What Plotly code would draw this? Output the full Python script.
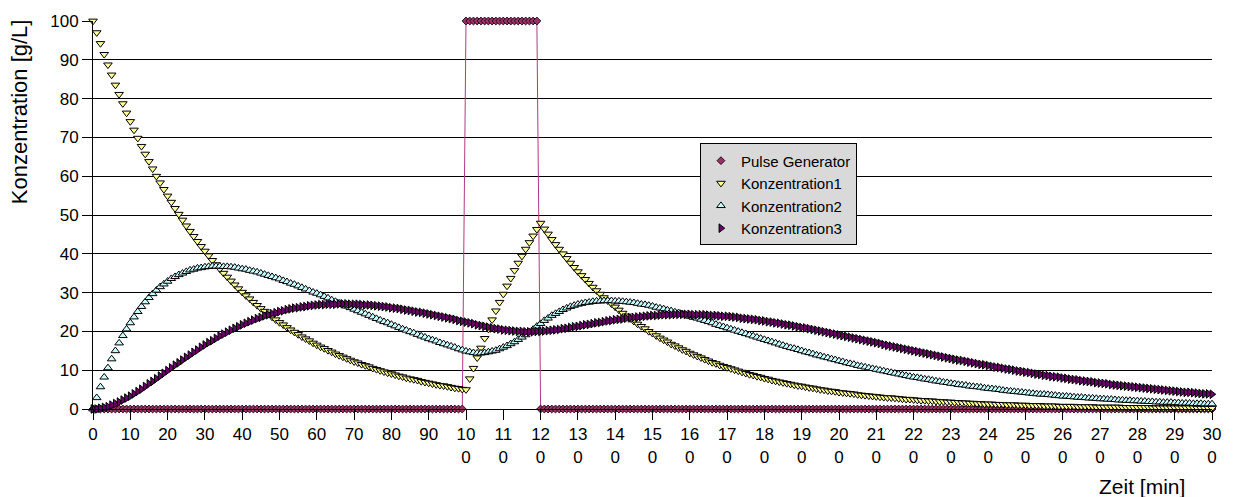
import plotly.graph_objects as go

# ---------------- data ----------------
zeit = list(range(0, 301))  # minutes, one sample per minute

pulse_generator = [0] * 100 + [100] * 20 + [0] * 181

konzentration1 = [
    100.0,
    97.0, 94.2, 91.4, 88.7, 86.1, 83.5, 81.1, 78.7, 76.3, 74.1,
    71.9, 69.8, 67.7, 65.7, 63.8, 61.9, 60.0, 58.3, 56.6, 54.9,
    53.3, 51.7, 50.2, 48.7, 47.2, 45.8, 44.5, 43.2, 41.9, 40.7,
    39.5, 38.3, 37.2, 36.1, 35.0, 34.0, 33.0, 32.0, 31.0, 30.1,
    29.2, 28.4, 27.5, 26.7, 25.9, 25.2, 24.4, 23.7, 23.0, 22.3,
    21.7, 21.0, 20.4, 19.8, 19.2, 18.6, 18.1, 17.6, 17.0, 16.5,
    16.0, 15.6, 15.1, 14.7, 14.2, 13.8, 13.4, 13.0, 12.6, 12.2,
    11.9, 11.5, 11.2, 10.9, 10.5, 10.2, 9.9, 9.6, 9.3, 9.1,
    8.8, 8.5, 8.3, 8.0, 7.8, 7.6, 7.4, 7.1, 6.9, 6.7,
    6.5, 6.3, 6.1, 6.0, 5.8, 5.6, 5.4, 5.3, 5.1, 5.0,
    7.8, 10.5, 13.2, 15.7, 18.2, 20.6, 23.0, 25.3, 27.5, 29.6,
    31.7, 33.7, 35.7, 37.6, 39.4, 41.2, 42.9, 44.6, 46.3, 47.9,
    46.4, 45.1, 43.7, 42.4, 41.2, 40.0, 38.8, 37.6, 36.5, 35.4,
    34.4, 33.4, 32.4, 31.4, 30.5, 29.6, 28.7, 27.9, 27.1, 26.3,
    25.5, 24.7, 24.0, 23.3, 22.6, 21.9, 21.3, 20.7, 20.0, 19.5,
    18.9, 18.3, 17.8, 17.3, 16.7, 16.3, 15.8, 15.3, 14.9, 14.4,
    14.0, 13.6, 13.2, 12.8, 12.4, 12.0, 11.7, 11.3, 11.0, 10.7,
    10.4, 10.1, 9.8, 9.5, 9.2, 8.9, 8.7, 8.4, 8.2, 7.9,
    7.7, 7.4, 7.2, 7.0, 6.8, 6.6, 6.4, 6.2, 6.0, 5.9,
    5.7, 5.5, 5.4, 5.2, 5.0, 4.9, 4.7, 4.6, 4.5, 4.3,
    4.2, 4.1, 4.0, 3.9, 3.7, 3.6, 3.5, 3.4, 3.3, 3.2,
    3.1, 3.0, 2.9, 2.9, 2.8, 2.7, 2.6, 2.5, 2.5, 2.4,
    2.3, 2.2, 2.2, 2.1, 2.1, 2.0, 1.9, 1.9, 1.8, 1.8,
    1.7, 1.7, 1.6, 1.6, 1.5, 1.5, 1.4, 1.4, 1.3, 1.3,
    1.3, 1.2, 1.2, 1.2, 1.1, 1.1, 1.1, 1.0, 1.0, 1.0,
    0.9, 0.9, 0.9, 0.9, 0.8, 0.8, 0.8, 0.8, 0.7, 0.7,
    0.7, 0.7, 0.7, 0.6, 0.6, 0.6, 0.6, 0.6, 0.5, 0.5,
    0.5, 0.5, 0.5, 0.5, 0.5, 0.4, 0.4, 0.4, 0.4, 0.4,
    0.4, 0.4, 0.4, 0.3, 0.3, 0.3, 0.3, 0.3, 0.3, 0.3,
    0.3, 0.3, 0.3, 0.3, 0.3, 0.2, 0.2, 0.2, 0.2, 0.2,
]

konzentration2 = [
    0.0,
    2.9, 5.7, 8.2, 10.6, 12.9, 15.0, 17.0, 18.9, 20.6, 22.2,
    23.7, 25.1, 26.4, 27.6, 28.7, 29.7, 30.6, 31.5, 32.2, 32.9,
    33.6, 34.1, 34.6, 35.0, 35.4, 35.8, 36.0, 36.3, 36.4, 36.6,
    36.7, 36.8, 36.8, 36.8, 36.7, 36.7, 36.6, 36.5, 36.3, 36.1,
    36.0, 35.7, 35.5, 35.3, 35.0, 34.7, 34.4, 34.1, 33.8, 33.5,
    33.1, 32.8, 32.4, 32.1, 31.7, 31.3, 30.9, 30.5, 30.1, 29.8,
    29.4, 29.0, 28.6, 28.1, 27.7, 27.3, 26.9, 26.5, 26.1, 25.7,
    25.3, 24.9, 24.5, 24.1, 23.7, 23.3, 22.9, 22.5, 22.2, 21.8,
    21.4, 21.0, 20.6, 20.3, 19.9, 19.6, 19.2, 18.8, 18.5, 18.1,
    17.8, 17.5, 17.1, 16.8, 16.5, 16.2, 15.9, 15.5, 15.2, 14.9,
    14.7, 14.5, 14.4, 14.4, 14.5, 14.7, 14.9, 15.1, 15.5, 15.9,
    16.3, 16.8, 17.3, 17.9, 18.5, 19.1, 19.8, 20.5, 21.3, 22.0,
    22.8, 23.4, 24.1, 24.6, 25.1, 25.6, 26.0, 26.4, 26.7, 27.0,
    27.2, 27.4, 27.5, 27.7, 27.8, 27.8, 27.9, 27.9, 27.9, 27.8,
    27.8, 27.7, 27.6, 27.5, 27.4, 27.2, 27.0, 26.9, 26.7, 26.5,
    26.2, 26.0, 25.8, 25.5, 25.3, 25.0, 24.8, 24.5, 24.2, 23.9,
    23.6, 23.4, 23.1, 22.8, 22.5, 22.2, 21.8, 21.5, 21.2, 20.9,
    20.6, 20.3, 20.0, 19.7, 19.4, 19.1, 18.8, 18.5, 18.2, 17.9,
    17.6, 17.3, 17.0, 16.7, 16.4, 16.1, 15.8, 15.6, 15.3, 15.0,
    14.7, 14.5, 14.2, 13.9, 13.7, 13.4, 13.2, 12.9, 12.7, 12.4,
    12.2, 11.9, 11.7, 11.5, 11.2, 11.0, 10.8, 10.6, 10.4, 10.2,
    10.0, 9.8, 9.6, 9.4, 9.2, 9.0, 8.8, 8.6, 8.4, 8.2,
    8.1, 7.9, 7.7, 7.6, 7.4, 7.2, 7.1, 6.9, 6.8, 6.6,
    6.5, 6.3, 6.2, 6.1, 5.9, 5.8, 5.7, 5.6, 5.4, 5.3,
    5.2, 5.1, 5.0, 4.8, 4.7, 4.6, 4.5, 4.4, 4.3, 4.2,
    4.1, 4.0, 3.9, 3.8, 3.8, 3.7, 3.6, 3.5, 3.4, 3.3,
    3.3, 3.2, 3.1, 3.0, 3.0, 2.9, 2.8, 2.8, 2.7, 2.6,
    2.6, 2.5, 2.5, 2.4, 2.3, 2.3, 2.2, 2.2, 2.1, 2.1,
    2.0, 2.0, 1.9, 1.9, 1.8, 1.8, 1.7, 1.7, 1.7, 1.6,
    1.6, 1.5, 1.5, 1.5, 1.4, 1.4, 1.4, 1.3, 1.3, 1.3,
]

konzentration3 = [
    0.0,
    0.0, 0.2, 0.4, 0.6, 1.0, 1.4, 1.8, 2.3, 2.8, 3.3,
    3.9, 4.5, 5.1, 5.8, 6.5, 7.1, 7.8, 8.5, 9.2, 9.9,
    10.6, 11.3, 11.9, 12.6, 13.3, 13.9, 14.6, 15.2, 15.9, 16.5,
    17.1, 17.6, 18.2, 18.8, 19.3, 19.8, 20.3, 20.8, 21.2, 21.7,
    22.1, 22.5, 22.9, 23.3, 23.6, 24.0, 24.3, 24.6, 24.8, 25.1,
    25.3, 25.6, 25.8, 26.0, 26.1, 26.3, 26.4, 26.6, 26.7, 26.8,
    26.9, 26.9, 27.0, 27.0, 27.0, 27.1, 27.1, 27.1, 27.0, 27.0,
    27.0, 26.9, 26.8, 26.8, 26.7, 26.6, 26.5, 26.4, 26.3, 26.1,
    26.0, 25.9, 25.7, 25.5, 25.4, 25.2, 25.0, 24.9, 24.7, 24.5,
    24.3, 24.1, 23.9, 23.7, 23.5, 23.3, 23.1, 22.8, 22.6, 22.4,
    22.2, 22.0, 21.7, 21.5, 21.3, 21.1, 20.9, 20.7, 20.6, 20.4,
    20.3, 20.2, 20.1, 20.0, 20.0, 19.9, 19.9, 19.9, 20.0, 20.0,
    20.1, 20.2, 20.3, 20.4, 20.5, 20.7, 20.8, 21.0, 21.2, 21.3,
    21.5, 21.7, 21.8, 22.0, 22.2, 22.3, 22.5, 22.7, 22.8, 23.0,
    23.1, 23.2, 23.4, 23.5, 23.6, 23.7, 23.8, 23.9, 24.0, 24.1,
    24.1, 24.2, 24.3, 24.3, 24.3, 24.4, 24.4, 24.4, 24.4, 24.4,
    24.3, 24.3, 24.3, 24.3, 24.2, 24.1, 24.1, 24.0, 23.9, 23.9,
    23.8, 23.7, 23.6, 23.4, 23.3, 23.2, 23.1, 23.0, 22.8, 22.7,
    22.5, 22.4, 22.2, 22.1, 21.9, 21.7, 21.6, 21.4, 21.2, 21.0,
    20.9, 20.7, 20.5, 20.3, 20.1, 19.9, 19.7, 19.5, 19.3, 19.1,
    18.9, 18.7, 18.5, 18.3, 18.1, 17.9, 17.7, 17.5, 17.3, 17.1,
    16.9, 16.6, 16.4, 16.2, 16.0, 15.8, 15.6, 15.4, 15.2, 15.0,
    14.8, 14.6, 14.4, 14.2, 14.0, 13.8, 13.6, 13.4, 13.2, 13.0,
    12.8, 12.6, 12.5, 12.3, 12.1, 11.9, 11.7, 11.5, 11.4, 11.2,
    11.0, 10.8, 10.7, 10.5, 10.3, 10.2, 10.0, 9.8, 9.7, 9.5,
    9.4, 9.2, 9.0, 8.9, 8.7, 8.6, 8.4, 8.3, 8.2, 8.0,
    7.9, 7.7, 7.6, 7.5, 7.3, 7.2, 7.1, 7.0, 6.8, 6.7,
    6.6, 6.5, 6.3, 6.2, 6.1, 6.0, 5.9, 5.8, 5.7, 5.6,
    5.5, 5.4, 5.3, 5.2, 5.1, 5.0, 4.9, 4.8, 4.7, 4.6,
    4.5, 4.4, 4.3, 4.3, 4.2, 4.1, 4.0, 3.9, 3.9, 3.8,
]

x_tick_vals = [0, 10, 20, 30, 40, 50, 60, 70, 80, 90, 100, 110, 120, 130, 140, 150,
               160, 170, 180, 190, 200, 210, 220, 230, 240, 250, 260, 270, 280, 290, 300]
x_tick_text = ["0", "10", "20", "30", "40", "50", "60", "70", "80", "90",
               "10<br>0", "11<br>0", "12<br>0", "13<br>0", "14<br>0", "15<br>0",
               "16<br>0", "17<br>0", "18<br>0", "19<br>0", "20<br>0", "21<br>0",
               "22<br>0", "23<br>0", "24<br>0", "25<br>0", "26<br>0", "27<br>0",
               "28<br>0", "29<br>0", "30<br>0"]
y_tick_vals = [0, 10, 20, 30, 40, 50, 60, 70, 80, 90, 100]

# ---------------- figure ----------------
FONT = "Arial, Liberation Sans, sans-serif"
fig = go.Figure()

# pulse generator connecting line (no legend entry)
fig.add_trace(go.Scatter(
    x=zeit[:len(pulse_generator)], y=pulse_generator, mode="lines",
    line=dict(color="#B03A80", width=1), showlegend=False,
    hoverinfo="skip", cliponaxis=False))

fig.add_trace(go.Scatter(
    x=zeit[:len(pulse_generator)], y=pulse_generator, mode="markers",
    name="Pulse Generator",
    marker=dict(symbol="diamond", size=6, color="#993366",
                line=dict(color="#2A0A1C", width=1)),
    cliponaxis=False))

fig.add_trace(go.Scatter(
    x=zeit[:len(konzentration1)], y=konzentration1, mode="markers",
    name="Konzentration1",
    marker=dict(symbol="triangle-down", size=7.5, color="#FFFF99",
                line=dict(color="#000000", width=1)),
    cliponaxis=False))

fig.add_trace(go.Scatter(
    x=zeit[:len(konzentration2)], y=konzentration2, mode="markers",
    name="Konzentration2",
    marker=dict(symbol="triangle-up", size=7.5, color="#CCFFFF",
                line=dict(color="#000000", width=1)),
    cliponaxis=False))

fig.add_trace(go.Scatter(
    x=zeit[:len(konzentration3)], y=konzentration3, mode="markers",
    name="Konzentration3",
    marker=dict(symbol="triangle-right", size=7.5, color="#660066",
                line=dict(color="#000000", width=1)),
    cliponaxis=False))

fig.update_layout(
    width=1242, height=497,
    margin=dict(l=93, r=30, t=16, b=88),
    plot_bgcolor="white", paper_bgcolor="white",
    font=dict(family=FONT, size=17, color="black"),
    showlegend=True,
    legend=dict(x=0.5424, y=0.6845, xanchor="left", yanchor="top",
                bgcolor="#D9D9D9", bordercolor="#000000", borderwidth=1,
                font=dict(family=FONT, size=15, color="black"),
                traceorder="normal"),
    xaxis=dict(range=[0, 300], tickmode="array", tickvals=x_tick_vals,
               ticktext=x_tick_text, tickangle=0,
               ticks="outside", ticklen=10, tickcolor="black", tickwidth=1,
               showline=True, linecolor="black", linewidth=1,
               showgrid=False, zeroline=False,
               tickfont=dict(family=FONT, size=17, color="black")),
    yaxis=dict(range=[0, 100], tickmode="array", tickvals=y_tick_vals,
               ticks="outside", ticklen=10, tickcolor="black", tickwidth=1,
               showline=True, linecolor="black", linewidth=1,
               showgrid=True, gridcolor="black", gridwidth=1,
               zeroline=False,
               tickfont=dict(family=FONT, size=17, color="black")),
    annotations=[
        dict(text="Konzentration [g/L]", xref="paper", yref="paper",
             x=-0.0661, y=0.765, xanchor="center", yanchor="middle",
             textangle=-90, showarrow=False,
             font=dict(family=FONT, size=22, color="black")),
        dict(text="Zeit [min]", xref="paper", yref="paper",
             x=0.9777, y=-0.201, xanchor="right", yanchor="middle",
             showarrow=False,
             font=dict(family=FONT, size=21, color="black")),
    ],
)

fig.write_html("out.html")
